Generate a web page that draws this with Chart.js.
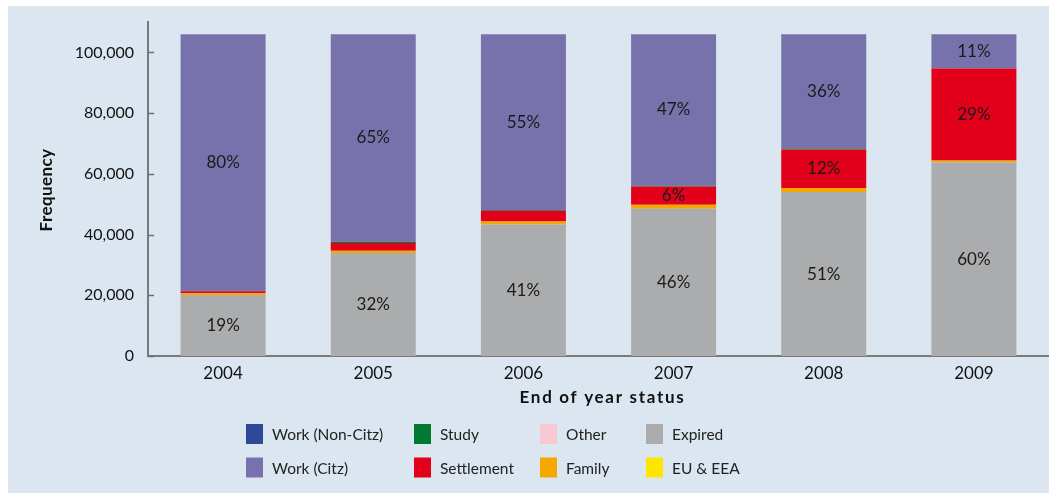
<!DOCTYPE html>
<html>
<head>
<meta charset="utf-8">
<script src="https://cdn.jsdelivr.net/npm/chart.js@4"></script>
<style>
  html, body { margin: 0; padding: 0; background: #fff; }
  #panel { position: absolute; left: 8px; top: 6px; width: 1041px; height: 487px; background: #dce6f1; }
  canvas { display: block; }
</style>
</head>
<body>
<div id="panel"><canvas id="chart" width="1041" height="487"></canvas></div>
<script>
// data (people per end-of-year status)
var years = ['2004', '2005', '2006', '2007', '2008', '2009'];
var expired     = [20100, 33900, 43300, 48500, 54000, 63700];
var euEea       = [0, 0, 0, 0, 0, 0];
var family      = [600, 760, 1000, 1300, 1300, 700];
var settlement  = [600, 2540, 3500, 6000, 12700, 30300];
var study       = [0, 400, 300, 300, 300, 0];
var other       = [0, 0, 0, 0, 0, 0];
var workCitz    = [84700, 68400, 57900, 49900, 37700, 11300];
var workNonCitz = [0, 0, 0, 0, 0, 0];
var yTicks = [0, 20000, 40000, 60000, 80000, 100000];

// legend is laid out in columns of two
var legendOrder = ['Work (Non-Citz)', 'Work (Citz)', 'Study', 'Settlement', 'Other', 'Family', 'Expired', 'EU & EEA'];
var labelled = ['Expired', 'Settlement', 'Work (Citz)'];

var FONT = 'Lato, "Open Sans", sans-serif';

function withCommas(v) {
    return String(v).replace(/\B(?=(\d{3})+(?!\d))/g, ',');
}

var datasets = [
    { label: 'Expired', data: expired, backgroundColor: '#abacad' },
    { label: 'EU & EEA', data: euEea, backgroundColor: '#ffe600' },
    { label: 'Family', data: family, backgroundColor: '#f5a800' },
    { label: 'Settlement', data: settlement, backgroundColor: '#e2001a' },
    { label: 'Study', data: study, backgroundColor: '#007a33' },
    { label: 'Other', data: other, backgroundColor: '#f7c8d2' },
    { label: 'Work (Citz)', data: workCitz, backgroundColor: '#7872ac' },
    { label: 'Work (Non-Citz)', data: workNonCitz, backgroundColor: '#2e4a96' }
];

var extras = {
    id: 'extras',
    afterDatasetsDraw: function(chart) {
        var ctx = chart.ctx, area = chart.chartArea;
        var yScale = chart.scales.y;
        ctx.save();

        // inward tick marks on the y axis
        ctx.strokeStyle = '#6e6e6e';
        ctx.lineWidth = 1.5;
        yTicks.forEach(function(v) {
            var py = Math.round(yScale.getPixelForValue(v)) + 0.5;
            ctx.beginPath();
            ctx.moveTo(area.left, py);
            ctx.lineTo(area.left + 6, py);
            ctx.stroke();
        });

        // percentage labels inside the big segments
        var totals = years.map(function(y, j) {
            return chart.data.datasets.reduce(function(s, d) { return s + d.data[j]; }, 0);
        });
        ctx.fillStyle = '#1a1a1a';
        ctx.font = '17px ' + FONT;
        ctx.textAlign = 'center';
        ctx.textBaseline = 'middle';
        chart.data.datasets.forEach(function(ds, i) {
            if (labelled.indexOf(ds.label) < 0) return;
            chart.getDatasetMeta(i).data.forEach(function(bar, j) {
                var pct = Math.round(ds.data[j] / totals[j] * 100);
                if (pct < 5) return;
                ctx.fillText(pct + '%', bar.x, (bar.y + bar.base) / 2);
            });
        });

        // axis titles
        ctx.fillStyle = '#111';
        ctx.font = 'bold 17px ' + FONT;
        ctx.letterSpacing = '1.7px';
        ctx.fillText('End of year status', (area.left + area.right) / 2 + 4, area.bottom + 42);
        ctx.letterSpacing = '0.4px';
        ctx.save();
        ctx.translate(39, (area.top + area.bottom) / 2 + 1);
        ctx.rotate(-Math.PI / 2);
        ctx.fillText('Frequency', 0, 0);
        ctx.restore();
        ctx.letterSpacing = '0px';

        // legend, 4 columns x 2 rows
        var colX = [238, 406, 532, 638];
        var rowY = [428, 461.5];
        ctx.font = '15.5px ' + FONT;
        ctx.textAlign = 'left';
        legendOrder.forEach(function(name, k) {
            var ds = chart.data.datasets.find(function(d) { return d.label === name; });
            var x = colX[Math.floor(k / 2)], y = rowY[k % 2];
            ctx.fillStyle = ds.backgroundColor;
            ctx.fillRect(x, y - 10, 17, 20);
            ctx.fillStyle = '#222';
            ctx.fillText(name, x + 26, y + 1);
        });
        ctx.restore();
    }
};

new Chart(document.getElementById('chart'), {
    type: 'bar',
    data: { labels: years, datasets: datasets },
    options: {
        responsive: false,
        animation: false,
        layout: { padding: { top: 16, left: 0, right: 0, bottom: 0 } },
        barPercentage: 0.566,
        categoryPercentage: 1,
        plugins: { legend: { display: false }, tooltip: { enabled: false } },
        scales: {
            x: {
                stacked: true,
                grid: { display: false, drawTicks: false },
                border: { color: '#7a7a7a', width: 2 },
                ticks: { color: '#111', font: { family: FONT, size: 17 }, padding: 7 },
                afterFit: function(s) { s.height = 137; }
            },
            y: {
                stacked: true,
                min: 0,
                max: 110000,
                grid: { display: false, drawTicks: false },
                border: { color: '#7a7a7a', width: 2 },
                ticks: {
                    stepSize: 20000,
                    autoSkip: false,
                    color: '#111',
                    padding: 14,
                    font: { family: FONT, size: 16 },
                    callback: function(v) { return withCommas(v); }
                },
                afterBuildTicks: function(s) {
                    s.ticks = yTicks.map(function(v) { return { value: v }; });
                },
                afterFit: function(s) {
                    s.width = 140;
                    s.paddingTop = 0;
                    s.paddingBottom = 0;
                }
            }
        }
    },
    plugins: [extras]
});
</script>
</body>
</html>
